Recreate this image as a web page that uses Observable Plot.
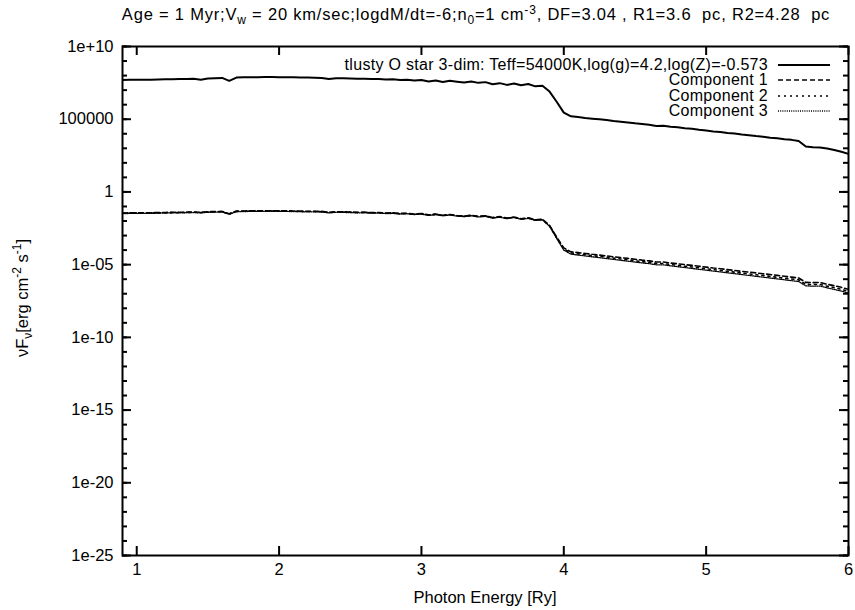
<!DOCTYPE html>
<html><head><meta charset="utf-8">
<script src="https://cdn.jsdelivr.net/npm/d3@7"></script>
<script src="https://cdn.jsdelivr.net/npm/@observablehq/plot@0.6"></script>
<style>
body{margin:0;background:#fff;font-family:"Liberation Sans",Arial,sans-serif;}
#wrap{position:relative;width:855px;height:610px;overflow:hidden;}
.ov{position:absolute;font-size:16.5px;color:#000;white-space:pre;line-height:1;}
.lg{font-size:16px;line-height:14px;height:14px;letter-spacing:0.3px;}
sub,sup{font-size:12px;line-height:0;}
</style></head><body><div id="wrap"></div>
<script>
// ---- data (log10 of nuF_nu) ----
const energy = [0.90,0.95,1.00,1.05,1.10,1.15,1.20,1.25,1.30,1.35,
 1.40,1.45,1.50,1.55,1.60,1.65,1.70,1.75,1.80,1.85,
 1.90,1.95,2.00,2.05,2.10,2.15,2.20,2.25,2.30,2.35,
 2.40,2.45,2.50,2.55,2.60,2.65,2.70,2.75,2.80,2.85,
 2.90,2.95,3.00,3.05,3.10,3.15,3.20,3.25,3.30,3.35,
 3.40,3.45,3.50,3.55,3.60,3.65,3.70,3.75,3.80,3.85,
 3.90,3.95,4.00,4.05,4.10,4.15,4.20,4.25,4.30,4.35,
 4.40,4.45,4.50,4.55,4.60,4.65,4.70,4.75,4.80,4.85,
 4.90,4.95,5.00,5.05,5.10,5.15,5.20,5.25,5.30,5.35,
 5.40,5.45,5.50,5.55,5.60,5.65,5.70,5.75,5.80,5.85,
 5.90,5.95,6.00];
const starLog = [7.70,7.71,7.71,7.72,7.72,7.73,7.74,7.75,7.76,7.77,
 7.78,7.72,7.80,7.82,7.84,7.64,7.86,7.88,7.89,7.89,
 7.90,7.90,7.89,7.89,7.88,7.87,7.86,7.85,7.84,7.76,
 7.82,7.81,7.80,7.78,7.79,7.76,7.77,7.73,7.74,7.70,
 7.72,7.66,7.70,7.60,7.66,7.56,7.64,7.58,7.52,7.60,
 7.50,7.55,7.40,7.48,7.36,7.45,7.34,7.42,7.26,7.30,
 6.90,6.20,5.45,5.20,5.15,5.09,5.04,4.99,4.94,4.88,
 4.83,4.78,4.72,4.67,4.62,4.54,4.55,4.48,4.44,4.38,
 4.35,4.27,4.22,4.16,4.12,4.05,4.01,3.95,3.90,3.84,
 3.80,3.73,3.69,3.62,3.58,3.50,3.12,3.08,3.06,2.98,
 2.88,2.76,2.62];
const comp1Log = [-1.45,-1.44,-1.44,-1.43,-1.43,-1.42,-1.41,-1.40,-1.40,-1.39,
 -1.38,-1.40,-1.36,-1.35,-1.34,-1.50,-1.32,-1.31,-1.30,-1.30,
 -1.29,-1.29,-1.30,-1.30,-1.31,-1.32,-1.33,-1.33,-1.34,-1.40,
 -1.36,-1.37,-1.38,-1.40,-1.39,-1.42,-1.41,-1.45,-1.44,-1.48,
 -1.46,-1.52,-1.48,-1.58,-1.52,-1.60,-1.55,-1.62,-1.66,-1.60,
 -1.68,-1.64,-1.76,-1.70,-1.80,-1.72,-1.84,-1.78,-1.92,-1.88,
 -2.30,-3.10,-3.85,-4.12,-4.17,-4.23,-4.29,-4.34,-4.40,-4.46,
 -4.52,-4.57,-4.63,-4.69,-4.74,-4.82,-4.82,-4.89,-4.94,-5.00,
 -5.05,-5.11,-5.17,-5.23,-5.28,-5.34,-5.40,-5.46,-5.51,-5.57,
 -5.63,-5.68,-5.74,-5.80,-5.86,-5.92,-6.22,-6.24,-6.23,-6.35,
 -6.45,-6.56,-6.70];
const comp2Log = [-1.47,-1.46,-1.46,-1.45,-1.45,-1.44,-1.43,-1.42,-1.42,-1.41,
 -1.40,-1.42,-1.38,-1.37,-1.36,-1.52,-1.34,-1.33,-1.32,-1.32,
 -1.31,-1.31,-1.32,-1.32,-1.33,-1.34,-1.35,-1.35,-1.36,-1.42,
 -1.38,-1.39,-1.40,-1.42,-1.41,-1.44,-1.43,-1.47,-1.46,-1.50,
 -1.48,-1.54,-1.50,-1.60,-1.54,-1.62,-1.57,-1.64,-1.68,-1.62,
 -1.70,-1.66,-1.78,-1.72,-1.82,-1.74,-1.86,-1.80,-1.94,-1.90,
 -2.33,-3.15,-3.92,-4.20,-4.26,-4.32,-4.38,-4.43,-4.49,-4.55,
 -4.61,-4.67,-4.73,-4.79,-4.84,-4.92,-4.92,-4.99,-5.05,-5.11,
 -5.16,-5.22,-5.28,-5.34,-5.40,-5.46,-5.52,-5.58,-5.63,-5.69,
 -5.75,-5.81,-5.87,-5.93,-5.99,-6.05,-6.35,-6.37,-6.36,-6.48,
 -6.58,-6.70,-6.84];
const comp3Log = [-1.49,-1.48,-1.48,-1.47,-1.47,-1.46,-1.45,-1.44,-1.44,-1.43,
 -1.42,-1.44,-1.40,-1.39,-1.38,-1.54,-1.36,-1.35,-1.34,-1.34,
 -1.33,-1.33,-1.34,-1.34,-1.35,-1.36,-1.37,-1.37,-1.38,-1.44,
 -1.40,-1.41,-1.42,-1.44,-1.43,-1.46,-1.45,-1.49,-1.48,-1.52,
 -1.50,-1.56,-1.52,-1.62,-1.56,-1.64,-1.59,-1.66,-1.70,-1.64,
 -1.72,-1.68,-1.80,-1.74,-1.84,-1.76,-1.88,-1.82,-1.96,-1.92,
 -2.36,-3.20,-4.00,-4.28,-4.34,-4.40,-4.46,-4.52,-4.58,-4.64,
 -4.70,-4.76,-4.82,-4.88,-4.93,-5.01,-5.01,-5.08,-5.14,-5.20,
 -5.26,-5.32,-5.38,-5.44,-5.50,-5.56,-5.62,-5.68,-5.74,-5.80,
 -5.86,-5.92,-5.98,-6.04,-6.10,-6.16,-6.46,-6.48,-6.47,-6.60,
 -6.70,-6.82,-6.95];

const seriesNames = ["tlusty O star 3-dim: Teff=54000K,log(g)=4.2,log(Z)=-0.573",
  "Component 1", "Component 2", "Component 3"];
const xTicks = [1, 2, 3, 4, 5, 6];
const xTickLabels = ["1", "2", "3", "4", "5", "6"];
const yMajor = [1e10, 1e5, 1, 1e-5, 1e-10, 1e-15, 1e-20, 1e-25];
const yTickLabels = ["1e+10", "100000", "1", "1e-05", "1e-10", "1e-15", "1e-20", "1e-25"];
const yMinor = d3.range(-25, 11).map(e => Math.pow(10, e));
const xLabel = "Photon Energy [Ry]";

// ---- styling ----
const dashes = [null, "5,3", "2,4", "1,1.2"];
const widths = [2, 1.6, 1.6, 1.3];
const FS = 16.5;

const W = 855, H = 610, ML = 122, MR = 7, MT = 46, MB = 55;
const innerW = W - ML - MR, innerH = H - MT - MB;

const allLogs = [starLog, comp1Log, comp2Log, comp3Log];
const series = allLogs.map((arr, k) => energy.map((e, i) => ({x: e, y: Math.pow(10, arr[i]), s: seriesNames[k]})));

const lineMarks = series.map((data, k) => Plot.line(data, {
  x: "x", y: "y", stroke: "black", strokeWidth: widths[k],
  strokeDasharray: dashes[k] || undefined, clip: true, strokeLinejoin: "miter"
}));

const chart = Plot.plot({
  width: W, height: H,
  marginLeft: ML, marginRight: MR, marginTop: MT, marginBottom: MB,
  style: {fontFamily: "'Liberation Sans', Arial, sans-serif", fontSize: FS + "px", color: "black", background: "white"},
  x: {domain: [0.9, 6]},
  y: {type: "log", domain: [1e-25, 1e10]},
  marks: [
    ...lineMarks,
    // inward ticks
    Plot.tickY(yMinor, {y: d => d, insetRight: innerW - 5, strokeWidth: 2}),
    Plot.tickY(yMinor, {y: d => d, insetLeft: innerW - 5, strokeWidth: 2}),
    Plot.tickY(yMajor, {y: d => d, insetRight: innerW - 9, strokeWidth: 2}),
    Plot.tickY(yMajor, {y: d => d, insetLeft: innerW - 9, strokeWidth: 2}),
    Plot.tickX(xTicks, {x: d => d, insetTop: innerH - 9, strokeWidth: 2}),
    Plot.tickX(xTicks, {x: d => d, insetBottom: innerH - 9, strokeWidth: 2}),
    Plot.axisY({ticks: yMajor, tickSize: 0, tickPadding: 9, label: null,
      tickFormat: d => yTickLabels[yMajor.indexOf(d)], fontSize: FS}),
    Plot.axisX({ticks: xTicks, tickSize: 0, tickPadding: 8, label: null,
      tickFormat: d => xTickLabels[xTicks.indexOf(d)], fontSize: FS}),
    Plot.frame({stroke: "black", strokeWidth: 2})
  ]
});

const wrap = document.getElementById("wrap");
wrap.appendChild(chart);

function ov(html, css, cls) {
  const d = document.createElement("div");
  d.className = "ov" + (cls ? " " + cls : "");
  d.innerHTML = html;
  Object.assign(d.style, css);
  wrap.appendChild(d);
  return d;
}
// title
ov("Age = 1 Myr;V<sub>w</sub> = 20 km/sec;logdM/dt=-6;n<sub>0</sub>=1 cm<sup>-3</sup>, DF=3.04 , R1=3.6  pc, R2=4.28  pc",
  {left: "476px", top: "6px", transform: "translateX(-50%)", letterSpacing: "0.8px"});
// x label
ov(xLabel, {left: "485px", top: "589px", transform: "translateX(-50%)"});
// y label
ov("νF<sub>ν</sub>[erg cm<sup>-2</sup> s<sup>-1</sup>]",
  {left: "22px", top: "298px", transform: "translate(-50%,-50%) rotate(-90deg)"});

// legend
seriesNames.forEach((name, k) => {
  const cy = 65 + 15.3 * k;
  ov(name, {right: (W - 768) + "px", top: (cy - 7) + "px", textAlign: "right"}, "lg");
  const ns = "http://www.w3.org/2000/svg";
  const svg = document.createElementNS(ns, "svg");
  svg.setAttribute("width", 52); svg.setAttribute("height", 6);
  svg.style.position = "absolute"; svg.style.left = "778px"; svg.style.top = (cy - 3) + "px";
  const ln = document.createElementNS(ns, "line");
  ln.setAttribute("x1", 0); ln.setAttribute("x2", 52); ln.setAttribute("y1", 3); ln.setAttribute("y2", 3);
  ln.setAttribute("stroke", "black"); ln.setAttribute("stroke-width", widths[k]);
  if (dashes[k]) ln.setAttribute("stroke-dasharray", dashes[k]);
  svg.appendChild(ln);
  wrap.appendChild(svg);
});
</script>
</body></html>
